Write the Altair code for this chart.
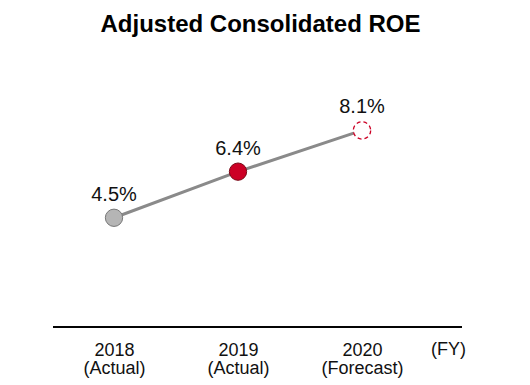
import altair as alt
import pandas as pd

title_text = "Adjusted Consolidated ROE"
years = ["2018", "2019", "2020"]
status = ["(Actual)", "(Actual)", "(Forecast)"]
roe = [4.5, 6.4, 8.1]
value_labels = ["4.5%", "6.4%", "8.1%"]

df = pd.DataFrame({
    "cat": [f"{y}|{s}" for y, s in zip(years, status)],
    "year": years,
    "roe": roe,
    "label": value_labels,
})

FONT = "Liberation Sans"
W, H = 409, 267

x = alt.X(
    "cat:O",
    sort=None,
    scale=alt.Scale(type="point", range=[61, 309], padding=0),
    axis=alt.Axis(
        title="(FY)",
        titleX=395,
        titleY=13,
        titleBaseline="top",
        titleAlign="center",
        titleFont=FONT,
        titleFontSize=18,
        titleFontWeight="normal",
        titleColor="#111111",
        labelAngle=0,
        domain=False,
        ticks=False,
        labelExpr="split(datum.label, '|')",
        labelFont=FONT,
        labelFontSize=18,
        labelLineHeight=18,
        labelPadding=14,
        labelColor="#111111",
    ),
)
y = alt.Y("roe:Q", scale=alt.Scale(domain=[0, 11]), axis=None)

base = alt.Chart(df)

baseline = alt.Chart(df).mark_rule(color="black", strokeWidth=1.5).encode(
    x=alt.value(0), x2=alt.value(W), y=alt.value(H)
)

title = alt.Chart(df).transform_filter("datum.year == '2018'").mark_text(
    font=FONT, fontSize=24, fontWeight="bold", color="black",
    align="center", baseline="alphabetic"
).encode(x=alt.value(W / 2 + 3), y=alt.value(-28), text=alt.value(title_text))

line = base.mark_line(color="#8a8a8a", strokeWidth=3).encode(x=x, y=y)

pts = base.transform_filter("datum.year != '2020'").mark_point(
    filled=True, size=300, opacity=1, strokeWidth=1
).encode(
    x=x,
    y=y,
    fill=alt.Fill("year:N", scale=alt.Scale(domain=["2018", "2019"], range=["#b5b5b5", "#cc0025"]), legend=None),
    stroke=alt.Stroke("year:N", scale=alt.Scale(domain=["2018", "2019"], range=["#777777", "#7a0a18"]), legend=None),
)

fc = base.transform_filter("datum.year == '2020'").mark_point(
    filled=False, size=300, fill="white", fillOpacity=1, opacity=1,
    stroke="#cc0025", strokeWidth=1.3, strokeDash=[4, 3], shape="circle"
).encode(x=x, y=y)

labels = base.mark_text(
    font=FONT, fontSize=20, dy=-17, baseline="alphabetic", color="#111111"
).encode(x=x, y=y, text="label:N")

chart = alt.layer(baseline, line, pts, fc, labels, title).properties(
    width=W,
    height=H,
    autosize=alt.AutoSizeParams(type="none"),
    padding={"left": 45, "top": 52, "right": 10, "bottom": 55},
).configure_view(stroke=None)

chart.save("out.html", embed_options={"renderer": "svg", "actions": False})
